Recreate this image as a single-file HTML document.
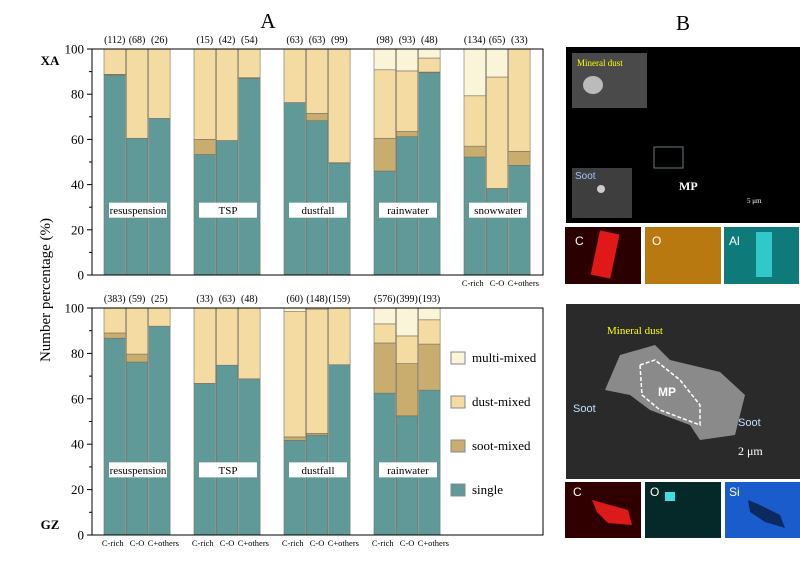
<!DOCTYPE html>
<html><head><meta charset="utf-8"><style>
html,body{margin:0;padding:0;background:#fff;}
svg{display:block;font-family:"Liberation Serif",serif;}
</style></head><body>
<svg id="s" width="800" height="571" xmlns="http://www.w3.org/2000/svg">
<text x="268" y="28" font-size="21" text-anchor="middle">A</text>
<text x="683" y="30" font-size="21" text-anchor="middle">B</text>
<text x="50" y="65" font-size="13" font-weight="bold" text-anchor="middle">XA</text>
<text x="50" y="529" font-size="13" font-weight="bold" text-anchor="middle">GZ</text>
<text transform="translate(50,290) rotate(-90)" font-size="15" text-anchor="middle">Number percentage (%)</text>
<g id="g"></g>
<g font-size="13">
<rect x="451" y="352" width="14" height="12" fill="#faf5d8" stroke="#888"/><text x="472" y="362">multi-mixed</text>
<rect x="451" y="396" width="14" height="12" fill="#f3dba2" stroke="#888"/><text x="472" y="406">dust-mixed</text>
<rect x="451" y="440" width="14" height="12" fill="#c9ad6e" stroke="#888"/><text x="472" y="450">soot-mixed</text>
<rect x="451" y="484" width="14" height="12" fill="#5f9a98" stroke="#888"/><text x="472" y="494">single</text>
</g>
<rect x="566" y="47" width="234" height="176" fill="#000"/>
<rect x="572" y="53" width="75" height="55" fill="#4a4a4a"/>
<ellipse cx="593" cy="85" rx="10" ry="9" fill="#bbb"/>
<text x="577" y="66" font-size="9" fill="#ffff00">Mineral dust</text>
<rect x="572" y="168" width="60" height="50" fill="#3e3e3e"/>
<circle cx="601" cy="189" r="4" fill="#ccc"/>
<text x="575" y="179" font-size="10" fill="#9cc8ff" font-family="Liberation Sans,sans-serif">Soot</text>
<rect x="654" y="147" width="29" height="21" fill="none" stroke="#6a7a80" stroke-width="1"/>
<text x="679" y="190" font-size="12" font-weight="bold" fill="#fff">MP</text>
<text x="747" y="203" font-size="7" fill="#fff">5 μm</text>
<rect x="565" y="227" width="76" height="57" fill="#2a0000"/>
<rect x="595" y="232" width="20" height="45" fill="#e01818" transform="rotate(12 605 255)"/>
<text x="575" y="245" font-size="12" fill="#fff" font-family="Liberation Sans,sans-serif">C</text>
<rect x="645" y="227" width="76" height="57" fill="#b87a10"/>
<text x="652" y="245" font-size="12" fill="#fff" font-family="Liberation Sans,sans-serif">O</text>
<rect x="724" y="227" width="75" height="57" fill="#0f7a7a"/>
<rect x="756" y="232" width="16" height="45" fill="#30c8c8"/>
<text x="729" y="245" font-size="12" fill="#fff" font-family="Liberation Sans,sans-serif">Al</text>
<rect x="566" y="304" width="234" height="175" fill="#2a2a2a"/>
<polygon points="620,355 655,345 670,360 720,372 745,395 735,435 700,440 690,425 650,410 630,395 605,390" fill="#8a8a8a"/>
<polygon points="640,365 655,360 680,380 700,405 700,425 660,410 642,395" fill="none" stroke="#fff" stroke-width="1.5" stroke-dasharray="4,2"/>
<text x="607" y="334" font-size="11" fill="#ffff00">Mineral dust</text>
<text x="573" y="412" font-size="11" fill="#bfe0ff" font-family="Liberation Sans,sans-serif">Soot</text>
<text x="738" y="426" font-size="11" fill="#bfe0ff" font-family="Liberation Sans,sans-serif">Soot</text>
<text x="658" y="396" font-size="12" font-weight="bold" fill="#fff" font-family="Liberation Sans,sans-serif">MP</text>
<text x="738" y="455" font-size="12" fill="#fff">2 μm</text>
<rect x="565" y="482" width="76" height="56" fill="#300000"/>
<polygon points="592,500 610,505 628,510 632,525 608,523 597,512" fill="#dd1a1a"/>
<text x="573" y="496" font-size="12" fill="#fff" font-family="Liberation Sans,sans-serif">C</text>
<rect x="645" y="482" width="76" height="56" fill="#052828"/>
<rect x="665" y="492" width="10" height="9" fill="#40e0e0"/>
<text x="650" y="496" font-size="12" fill="#fff" font-family="Liberation Sans,sans-serif">O</text>
<rect x="725" y="482" width="75" height="56" fill="#1a5ccc"/>
<polygon points="748,500 760,505 780,515 785,528 765,522 750,512" fill="#0c2a60"/>
<text x="729" y="496" font-size="12" fill="#fff" font-family="Liberation Sans,sans-serif">Si</text>
</svg>
<script>
(function(){
var NS="http://www.w3.org/2000/svg",G=document.getElementById("g");
function el(t,a,txt){var e=document.createElementNS(NS,t);for(var k in a)e.setAttribute(k,a[k]);if(txt!=null)e.textContent=txt;G.appendChild(e);return e;}
var C=["#5f9a98","#c9ad6e","#f3dba2","#faf5d8"];
var names=["resuspension","TSP","dustfall","rainwater","snowwater"];
var dTop=[
[[88.5,88.8,100,100],[60.5,60.5,100,100],[69.3,69.3,100,100]],
[[53.3,60,100,100],[59.5,59.5,100,100],[87,87.3,100,100]],
[[76.3,76.3,100,100],[68.3,71.5,100,100],[49.5,49.7,100,100]],
[[46,60.5,90.8,100],[61.2,63.5,90.3,100],[89.5,89.8,96,100]],
[[52.2,57,79.3,100],[38.3,38.3,87.6,100],[48.5,54.7,100,100]]];
var nTop=[["(112)","(68)","(26)"],["(15)","(42)","(54)"],["(63)","(63)","(99)"],["(98)","(93)","(48)"],["(134)","(65)","(33)"]];
var dBot=[
[[86.7,89,100,100],[76.2,79.7,100,100],[92,92,100,100]],
[[66.8,66.8,100,100],[74.8,74.8,100,100],[68.8,68.8,100,100]],
[[41.7,43.2,98.4,100],[44,44.8,99.5,100],[75,75,100,100]],
[[62.5,84.6,93,100],[52.5,75.5,87.7,100],[63.8,84.1,94.8,100]]];
var nBot=[["(383)","(59)","(25)"],["(33)","(63)","(48)"],["(60)","(148)","(159)"],["(576)","(399)","(193)"]];
var cats=["C-rich","C-O","C+others"];
function panel(y0,h,data,N,catsAll){
  var Y=function(v){return y0+h-h*v/100;};
  for(var g=0;g<data.length;g++){
    for(var i=0;i<3;i++){
      var x=104+90*g+22.3*i,w=21.5,prev=0;
      for(var k=0;k<4;k++){var v=data[g][i][k];if(v>prev){el("rect",{x:x,y:Y(v),width:w,height:Y(prev)-Y(v),fill:C[k],stroke:"#7a7060","stroke-width":"0.6"});}prev=v;}
      el("text",{x:x+w/2,y:y0-6,"font-size":"10","text-anchor":"middle"},N[g][i]);
      if(catsAll||g==4) el("text",{x:x+w/2+(i==2?4:(i==0?-2:0)),y:y0+h+11,"font-size":"8.5","text-anchor":"middle"},cats[i]);
    }
    var bx=109+90*g;
    el("rect",{x:bx,y:y0+h*0.68,width:58,height:15,fill:"#fff"});
    el("text",{x:bx+29,y:y0+h*0.68+11.5,"font-size":"11","text-anchor":"middle"},names[g]);
  }
  el("rect",{x:92,y:y0,width:451,height:h,fill:"none",stroke:"#000","stroke-width":"1"});
  for(var t=0;t<=100;t+=10){
    var yy=Y(t);
    el("line",{x1:t%20==0?87:89,x2:92,y1:yy,y2:yy,stroke:"#000","stroke-width":"1"});
    if(t%20==0) el("text",{x:84,y:yy+4.5,"font-size":"13","text-anchor":"end"},""+t);
  }
}
panel(49,226,dTop,nTop,false);
panel(308,227,dBot,nBot,true);
})();
</script>
</body></html>
